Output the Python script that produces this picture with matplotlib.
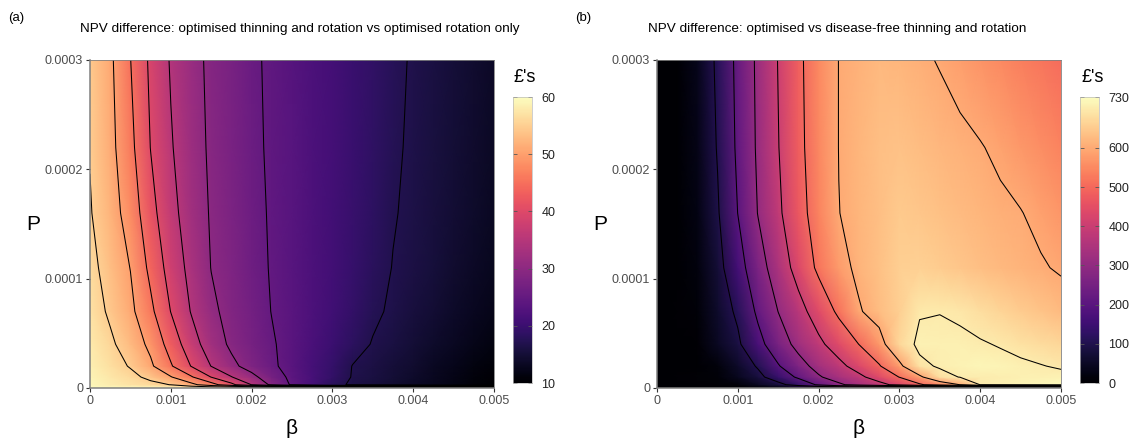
import numpy as np
import matplotlib.pyplot as plt
from matplotlib.colors import Normalize

plt.rcParams['font.family'] = ['Liberation Sans', 'DejaVu Sans']

# grid: beta along x, P along y (bottom row first)
beta = [0, 0.00025, 0.0005, 0.00075, 0.001, 0.00125, 0.0015, 0.00175, 0.002, 0.00225, 0.0025,
        0.00275, 0.003, 0.00325, 0.0035, 0.00375, 0.004, 0.00425, 0.0045, 0.00475, 0.005]
P = [0, 0.000003, 0.00001, 0.00002, 0.00004, 0.00007, 0.00011, 0.00016, 0.00022, 0.0003]

# (a) thinning + rotation vs rotation only, in pounds
npv_a = [
    [59.5, 59.5, 59.5, 59.5, 59.5, 59.5, 59.5, 59.5, 59.5, 59.5, 59.5, 59.5, 59.5, 59.5, 59.5, 59.5, 59.5, 59.5, 59.5, 59.5, 59.5],
    [59.3, 58.2, 57.2, 56.1, 54.9, 51.4, 47.0, 41.3, 34.9, 29.0, 24.4, 21.3, 18.2, 16.4, 15.5, 14.6, 13.7, 12.8, 11.8, 10.9, 10.0],
    [59.0, 57.5, 56.1, 54.0, 50.3, 45.6, 39.9, 35.2, 31.3, 27.3, 24.0, 21.5, 19.0, 16.8, 15.9, 14.9, 14.0, 13.0, 12.1, 11.1, 10.2],
    [58.6, 56.7, 54.7, 50.8, 45.5, 39.9, 34.9, 31.1, 28.2, 25.7, 23.5, 21.3, 19.2, 16.9, 16.1, 15.2, 14.3, 13.3, 12.4, 11.5, 10.6],
    [58.0, 55.8, 52.8, 48.9, 43.0, 37.2, 32.5, 29.2, 27.3, 25.4, 23.6, 21.8, 20.0, 18.3, 16.8, 15.9, 15.0, 14.1, 13.2, 12.3, 11.4],
    [57.2, 54.3, 51.1, 46.1, 39.9, 34.8, 30.9, 28.6, 26.8, 24.9, 23.5, 22.0, 20.6, 19.1, 17.6, 16.5, 15.6, 14.8, 13.9, 13.1, 12.2],
    [56.3, 53.2, 49.9, 43.8, 38.0, 33.6, 29.9, 28.2, 26.4, 24.7, 23.4, 22.1, 20.8, 19.5, 18.2, 16.9, 16.1, 15.3, 14.4, 13.6, 12.8],
    [55.3, 52.1, 48.0, 41.6, 36.5, 32.6, 29.6, 27.8, 26.1, 24.6, 23.3, 22.1, 20.9, 19.7, 18.5, 17.2, 16.4, 15.6, 14.8, 14.0, 13.2],
    [54.8, 51.4, 46.3, 39.9, 35.4, 32.0, 29.3, 27.6, 25.9, 24.4, 23.3, 22.1, 21.0, 19.8, 18.6, 17.5, 16.5, 15.7, 15.0, 14.2, 13.4],
    [54.5, 50.9, 45.1, 39.1, 34.6, 31.5, 29.1, 27.4, 25.7, 24.3, 23.2, 22.1, 21.0, 19.9, 18.8, 17.7, 16.7, 15.9, 15.1, 14.4, 13.6],
]
levels_a = [17, 25, 30, 35, 40, 45, 50, 55]

# (b) optimised vs disease-free thinning and rotation, in pounds
npv_b = [
    [0, 0, 0, 0, 0, 0, 0, 0, 0, 0, 0, 0, 0, 0, 0, 0, 0, 0, 0, 0, 0],
    [0, 2, 5, 7, 10, 45, 79, 133, 214, 286, 333, 375, 425, 488, 544, 601, 702, 708, 714, 719, 725],
    [0, 3, 6, 9, 42, 81, 139, 215, 291, 339, 382, 438, 502, 583, 680, 702, 704, 706, 708, 710, 712],
    [0, 1, 2, 17, 57, 107, 193, 268, 328, 378, 433, 493, 581, 687, 706, 712, 718, 713, 708, 702, 695],
    [0, 2, 5, 46, 87, 171, 256, 325, 382, 440, 501, 571, 668, 712, 709, 709, 704, 697, 687, 678, 668],
    [0, 5, 10, 58, 113, 217, 301, 369, 441, 516, 594, 628, 658, 696, 699, 693, 680, 666, 653, 639, 625],
    [0, 1, 18, 73, 162, 261, 347, 433, 517, 578, 614, 635, 656, 660, 651, 642, 632, 623, 614, 605, 594],
    [0, 1, 25, 92, 201, 303, 384, 469, 539, 599, 617, 633, 650, 642, 634, 626, 618, 610, 602, 587, 570],
    [0, 2, 30, 105, 216, 313, 397, 480, 545, 601, 616, 631, 637, 628, 620, 612, 603, 590, 573, 557, 540],
    [0, 2, 35, 114, 223, 317, 403, 484, 548, 601, 612, 623, 617, 608, 597, 582, 566, 551, 536, 520, 505],
]
levels_b = [100, 200, 300, 400, 500, 600, 700]

xticks = [0, 0.001, 0.002, 0.003, 0.004, 0.005]
xticklabels = ['0', '0.001', '0.002', '0.003', '0.004', '0.005']
yticks = [0, 0.0001, 0.0002, 0.0003]
yticklabels = ['0', '0.0001', '0.0002', '0.0003']

W, H = 1137, 441
fig = plt.figure(figsize=(W / 100, H / 100), dpi=100)


def panel(x0, z, vmin, vmax, levels, cticks, cticklabels, cbx, title, tag, titlex):
    ax = fig.add_axes([x0 / W, 1 - 388 / H, 404 / W, 328 / H])
    norm = Normalize(vmin=vmin, vmax=vmax)
    mesh = ax.pcolormesh(beta, P, np.array(z), cmap='magma', norm=norm, shading='gouraud')
    ax.contour(beta, P, np.array(z), levels=levels, colors='black', linewidths=0.75)
    ax.set_xlim(0, 0.005)
    ax.set_ylim(0, 0.0003)
    ax.set_xticks(xticks)
    ax.set_xticklabels(xticklabels)
    ax.set_yticks(yticks)
    ax.set_yticklabels(yticklabels)
    ax.tick_params(length=3, width=0.8, color='#333333', labelsize=9, labelcolor='#4d4d4d', pad=2)
    for side, sp in ax.spines.items():
        sp.set_color('#808080')
        sp.set_linewidth(1.1 if side in ('left', 'bottom') else 0.6)
    ax.set_xlabel('β', fontsize=15, labelpad=9)
    ax.set_ylabel('P', fontsize=15, rotation=0, labelpad=8, va='center')

    cax = fig.add_axes([cbx / W, 1 - 383 / H, 18.5 / W, 286 / H])
    cb = fig.colorbar(mesh, cax=cax)
    cb.set_ticks(cticks)
    cb.set_ticklabels(cticklabels)
    cb.outline.set_edgecolor('#bbbbbb')
    cb.outline.set_linewidth(0.5)
    cax.tick_params(direction='in', length=3, width=0.6, color='#555555', left=True, right=True,
                    labelsize=9, labelcolor='#222222', pad=7)
    fig.text((cbx + 1) / W, 1 - 77 / H, "£'s", fontsize=13, ha='left', va='center')

    fig.text(titlex / W, 1 - 29 / H, title, fontsize=9.7, ha='left', va='center')
    fig.text((titlex - 72 if tag == '(a)' else titlex - 73) / W, 1 - 18 / H, tag, fontsize=9.5,
             ha='left', va='center')
    return ax


panel(90, npv_a, 10, 60, levels_a, [10, 20, 30, 40, 50, 60], ['10', '20', '30', '40', '50', '60'],
      513, 'NPV difference: optimised thinning and rotation vs optimised rotation only', '(a)', 80)
panel(657, npv_b, 0, 730, levels_b, [0, 100, 200, 300, 400, 500, 600, 730],
      ['0', '100', '200', '300', '400', '500', '600', '730'],
      1080, 'NPV difference: optimised vs disease-free thinning and rotation', '(b)', 648)

fig.savefig('out.png', dpi=100)
